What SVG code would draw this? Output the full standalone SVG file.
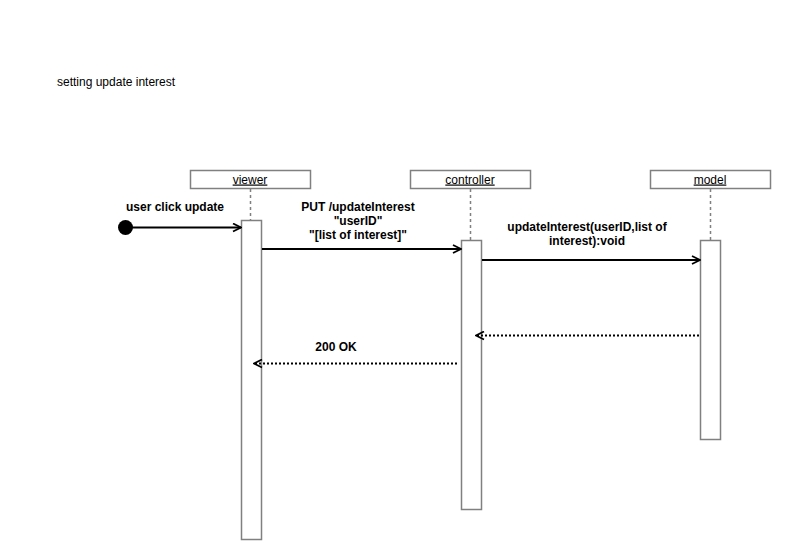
<svg xmlns="http://www.w3.org/2000/svg" width="792" height="560" viewBox="0 0 792 560">
<defs>
<style>
.hdr{fill:#fff;stroke:#808080;stroke-width:1.5}
.act{fill:#fff;stroke:#808080;stroke-width:1.5}
.life{stroke:#808080;stroke-width:1.5;stroke-dasharray:3 3;fill:none}
.t{font-family:"Liberation Sans",Arial,sans-serif;font-size:12px;fill:#000}
.b{font-weight:bold}
.msg{stroke:#000;stroke-width:2;fill:none}
.ret{stroke:#000;stroke-width:2;stroke-dasharray:2 2;fill:none}
</style>
<marker id="open" markerWidth="10" markerHeight="10" refX="9" refY="5" orient="auto" markerUnits="userSpaceOnUse">
<path d="M1,1 L9,5 L1,9" fill="none" stroke="#000" stroke-width="1.8"/>
</marker>
</defs>
<rect width="792" height="560" fill="#fff"/>
<text class="t" x="57" y="86">setting update interest</text>
<g id="viewer">
<rect class="hdr" x="190.5" y="170.5" width="120" height="18"/>
<text class="t" x="250" y="183.5" text-anchor="middle" text-decoration="underline">viewer</text>
<line class="life" x1="250.5" y1="189" x2="250.5" y2="220"/>
<rect class="act" x="241.5" y="220.5" width="20" height="319"/>
</g>
<g id="controller">
<rect class="hdr" x="410.5" y="170.5" width="120" height="18"/>
<text class="t" x="470" y="183.5" text-anchor="middle" text-decoration="underline">controller</text>
<line class="life" x1="470.5" y1="189" x2="470.5" y2="240"/>
<rect class="act" x="461.5" y="240.5" width="20" height="269"/>
</g>
<g id="model">
<rect class="hdr" x="650.5" y="170.5" width="120" height="18"/>
<text class="t" x="710" y="183.5" text-anchor="middle" text-decoration="underline">model </text>
<line class="life" x1="710.5" y1="189" x2="710.5" y2="240"/>
<rect class="act" x="700.5" y="240.5" width="20" height="199"/>
</g>
<g id="start">
<circle cx="125.5" cy="227.5" r="7.5" fill="#000"/>
</g>
<g id="connectors">
<line class="msg" x1="126" y1="227.5" x2="241" y2="227.5" marker-end="url(#open)"/>
<text class="t b" x="175" y="211" text-anchor="middle">user click update</text>
<line class="msg" x1="262" y1="249" x2="461" y2="249" marker-end="url(#open)"/>
<text class="t b" x="358" y="211" text-anchor="middle">PUT /updateInterest</text>
<text class="t b" x="358" y="225" text-anchor="middle">"userID"</text>
<text class="t b" x="358" y="239" text-anchor="middle">"[list of interest]"</text>
<line class="msg" x1="482" y1="260" x2="700" y2="260" marker-end="url(#open)"/>
<text class="t b" x="587" y="231" text-anchor="middle">updateInterest(userID,list of</text>
<text class="t b" x="587" y="245" text-anchor="middle">interest):void</text>
<line class="ret" x1="699" y1="335.5" x2="476" y2="335.5" marker-end="url(#open)"/>
<line class="ret" x1="457" y1="363.5" x2="254" y2="363.5" marker-end="url(#open)"/>
<text class="t b" x="336" y="351" text-anchor="middle">200 OK</text>
</g>
</svg>
